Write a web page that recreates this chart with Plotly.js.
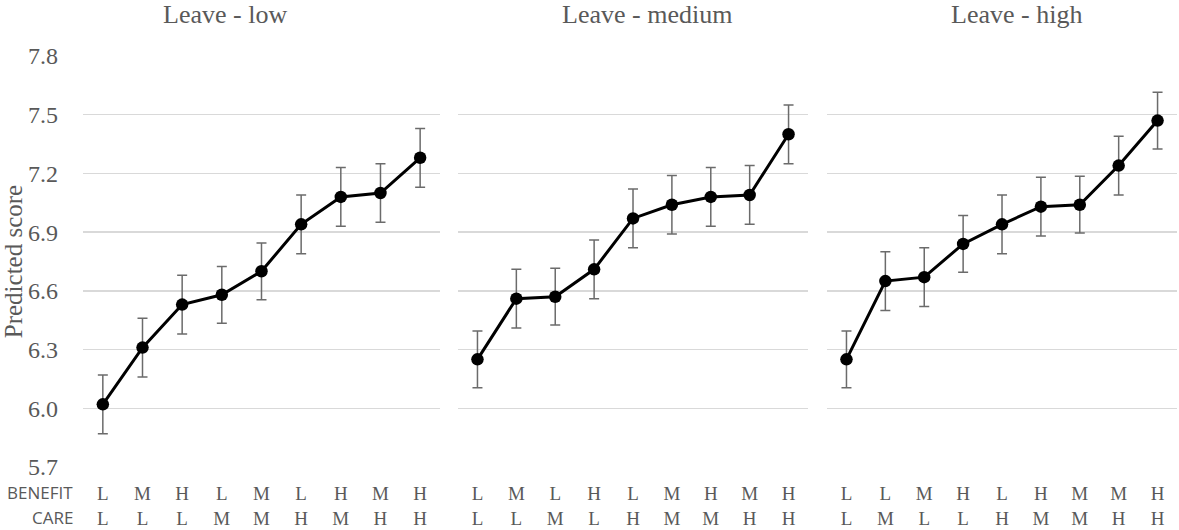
<!DOCTYPE html>
<html>
<head>
<meta charset="utf-8">
<script src="https://cdn.plot.ly/plotly-3.0.1.min.js"></script>
<style>html,body{margin:0;padding:0;background:#fff;}#chart{width:1179px;height:530px;}</style>
</head>
<body>
<div id="chart"></div>
<script>
// Panel titles
const panelTitles = ["Leave - low", "Leave - medium", "Leave - high"];
// Row labels under the axis
const rowLabels = ["BENEFIT", "CARE"];

// Leave - low
const benefitLow = ["L","M","H","L","M","L","H","M","H"];
const careLow    = ["L","L","L","M","M","H","M","H","H"];
const scoreLow   = [6.02, 6.31, 6.53, 6.58, 6.70, 6.94, 7.08, 7.10, 7.28];
const errLow     = [0.15, 0.15, 0.15, 0.145, 0.145, 0.15, 0.15, 0.15, 0.15];

// Leave - medium
const benefitMed = ["L","M","L","H","L","M","H","M","H"];
const careMed    = ["L","L","M","L","H","M","M","H","H"];
const scoreMed   = [6.25, 6.56, 6.57, 6.71, 6.97, 7.04, 7.08, 7.09, 7.40];
const errMed     = [0.145, 0.15, 0.145, 0.15, 0.15, 0.15, 0.15, 0.15, 0.15];

// Leave - high
const benefitHigh = ["L","L","M","H","L","H","M","M","H"];
const careHigh    = ["L","M","L","L","H","M","M","H","H"];
const scoreHigh   = [6.25, 6.65, 6.67, 6.84, 6.94, 7.03, 7.04, 7.24, 7.47];
const errHigh     = [0.145, 0.15, 0.15, 0.145, 0.15, 0.15, 0.145, 0.15, 0.145];

// Y axis ticks
const yTicks = [5.7, 6.0, 6.3, 6.6, 6.9, 7.2, 7.5, 7.8];
const yTickText = ["5.7","6.0","6.3","6.6","6.9","7.2","7.5","7.8"];

const SERIF = 'Liberation Serif, Times New Roman, serif';
const SANS = 'Open Sans, Liberation Sans, sans-serif';
const GRAY = '#595959';

const panels = [
  {b: benefitLow, c: careLow, y: scoreLow, e: errLow},
  {b: benefitMed, c: careMed, y: scoreMed, e: errMed},
  {b: benefitHigh, c: careHigh, y: scoreHigh, e: errHigh}
];

const traces = panels.map((p, i) => {
  const idx = p.y.map((_, k) => k);
  return {
    x: idx,
    y: p.y,
    xaxis: i === 0 ? 'x' : 'x' + (i + 1),
    yaxis: i === 0 ? 'y' : 'y' + (i + 1),
    type: 'scatter',
    mode: 'lines+markers',
    line: {color: '#000000', width: 3},
    marker: {color: '#000000', size: 12.5},
    error_y: {type: 'data', array: p.e, visible: true, color: '#6b6b6b', thickness: 1.5, width: 5},
    showlegend: false,
    hoverinfo: 'y'
  };
});

// plot-area pixel geometry: left 83, right 1177
const domains = [[0, 0.3263], [0.3428, 0.6627], [0.6801, 1]];

const layout = {
  width: 1179,
  height: 530,
  margin: {l: 83, r: 2, t: 56, b: 63},
  paper_bgcolor: '#ffffff',
  plot_bgcolor: '#ffffff',
  font: {family: SERIF, color: GRAY},
  showlegend: false,
  annotations: []
};

panels.forEach((p, i) => {
  const xa = i === 0 ? 'xaxis' : 'xaxis' + (i + 1);
  const ya = i === 0 ? 'yaxis' : 'yaxis' + (i + 1);
  const ticktext = p.b.map((b, k) => b + '<br>' + p.c[k]);
  layout[xa] = {
    domain: domains[i],
    range: [-0.5, 8.5],
    tickmode: 'array',
    tickvals: p.y.map((_, k) => k),
    ticktext: ticktext,
    showgrid: false,
    zeroline: false,
    showline: false,
    ticks: '',
    ticklabelstandoff: 13,
    tickfont: {family: SERIF, size: 19, color: GRAY},
    fixedrange: true
  };
  layout[ya] = {
    anchor: i === 0 ? 'x' : 'x' + (i + 1),
    range: [5.7, 7.8],
    tickmode: 'array',
    tickvals: yTicks,
    ticktext: yTickText,
    showticklabels: i === 0,
    showgrid: true,
    gridcolor: '#d9d9d9',
    gridwidth: 1.3,
    zeroline: false,
    showline: false,
    ticks: '',
    ticklabelstandoff: 24,
    tickfont: {family: SERIF, size: 24, color: GRAY},
    fixedrange: true
  };
  if (i === 0) {
    layout[ya].title = {text: 'Predicted score', font: {family: SERIF, size: 25, color: GRAY}, standoff: 2};
  }
});

const titleX = [0.1298, 0.5155, 0.8537];
panelTitles.forEach((t, i) => {
  layout.annotations.push({
    text: t, xref: 'paper', yref: 'paper', x: titleX[i], y: 1.0998,
    xanchor: 'center', yanchor: 'middle', showarrow: false,
    font: {family: SERIF, size: 26, color: GRAY}
  });
});

const rowY = [-0.061, -0.122];
rowLabels.forEach((t, i) => {
  layout.annotations.push({
    text: t, xref: 'paper', yref: 'paper', x: -0.007, y: rowY[i],
    xanchor: 'right', yanchor: 'middle', showarrow: false,
    font: {family: SANS, size: 17, color: GRAY}
  });
});

Plotly.newPlot('chart', traces, layout, {displayModeBar: false, staticPlot: true});
</script>
</body>
</html>
